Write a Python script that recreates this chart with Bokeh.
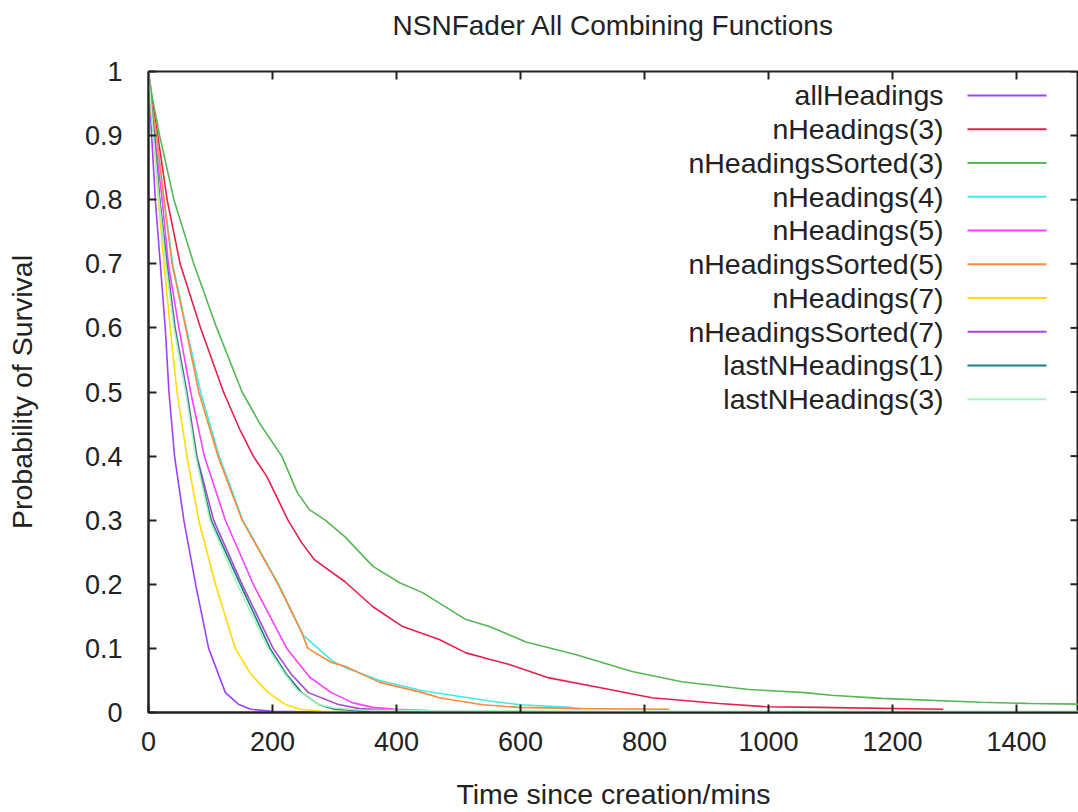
from bokeh.plotting import figure
from bokeh.models import Range1d, FixedTicker
from bokeh.embed import file_html
from bokeh.resources import INLINE
from bokeh.core.properties import value

title_text = "NSNFader All Combining Functions"
x_label = "Time since creation/mins"
y_label = "Probability of Survival"

x_ticks = [0, 200, 400, 600, 800, 1000, 1200, 1400]
y_ticks = [0, 0.1, 0.2, 0.3, 0.4, 0.5, 0.6, 0.7, 0.8, 0.9, 1.0]
y_tick_labels = ["0", "0.1", "0.2", "0.3", "0.4", "0.5", "0.6", "0.7", "0.8", "0.9", "1"]

names = ["allHeadings", "nHeadings(3)", "nHeadingsSorted(3)", "nHeadings(4)",
         "nHeadings(5)", "nHeadingsSorted(5)", "nHeadings(7)", "nHeadingsSorted(7)",
         "lastNHeadings(1)", "lastNHeadings(3)"]
colors = ["#a040ff", "#e5204c", "#55b855", "#40eaea", "#ff40ff",
          "#ff8a3a", "#ffdd00", "#a84ad0", "#1a7f80", "#a8f5c0"]

t_allHeadings = [0, 2, 5, 11, 19, 27, 33, 42, 57, 76, 97, 124, 145, 165, 200, 250, 292]
p_allHeadings = [1.0, 0.96, 0.9, 0.8, 0.7, 0.6, 0.5, 0.4, 0.3, 0.2, 0.1, 0.031, 0.013, 0.005, 0.002, 0.001, 0.001]

t_nH3 = [0, 5, 15, 30, 51, 84, 121, 148, 169, 191, 225, 247, 268, 317, 362, 410, 469, 512, 550, 582, 646, 727, 812, 920, 995, 1080, 1282]
p_nH3 = [1.0, 0.96, 0.9, 0.8, 0.7, 0.6, 0.5, 0.44, 0.4, 0.368, 0.3, 0.265, 0.238, 0.204, 0.165, 0.134, 0.114, 0.093, 0.083, 0.075, 0.054, 0.039, 0.023, 0.014, 0.009, 0.008, 0.005]

t_nHS3 = [0, 6, 18, 41, 73, 110, 151, 180, 215, 240, 260, 285, 317, 362, 405, 442, 512, 550, 609, 690, 780, 860, 968, 1059, 1101, 1182, 1342, 1423, 1500]
p_nHS3 = [1.0, 0.96, 0.9, 0.8, 0.7, 0.6, 0.5, 0.45, 0.4, 0.343, 0.316, 0.3, 0.274, 0.228, 0.2025, 0.187, 0.145, 0.134, 0.11, 0.09, 0.064, 0.048, 0.036, 0.031, 0.027, 0.022, 0.016, 0.014, 0.013]

t_nH4 = [0, 3, 13, 25, 39, 61, 84, 114, 152, 210, 250, 297, 320, 373, 442, 550, 600, 680, 695]
p_nH4 = [1.0, 0.96, 0.9, 0.8, 0.7, 0.6, 0.5, 0.4, 0.3, 0.2, 0.12, 0.08, 0.069, 0.05, 0.034, 0.018, 0.012, 0.008, 0.005]

t_nH5 = [0, 3, 10, 22, 32, 49, 68, 90, 124, 169, 223, 260, 295, 330, 362, 400, 453]
p_nH5 = [1.0, 0.96, 0.9, 0.8, 0.7, 0.6, 0.5, 0.4, 0.3, 0.2, 0.1, 0.055, 0.031, 0.015, 0.008, 0.005, 0.003]

t_nHS5 = [0, 3, 13, 25, 38, 60, 81, 112, 151, 209, 247, 257, 295, 317, 373, 442, 469, 539, 598, 700, 840]
p_nHS5 = [1.0, 0.96, 0.9, 0.8, 0.7, 0.6, 0.5, 0.4, 0.3, 0.2, 0.125, 0.1, 0.078, 0.072, 0.047, 0.031, 0.023, 0.012, 0.008, 0.006, 0.005]

t_nH7 = [0, 2, 8, 16, 25, 35, 46, 62, 81, 108, 140, 165, 193, 220, 244, 280, 336]
p_nH7 = [1.0, 0.96, 0.9, 0.8, 0.7, 0.6, 0.5, 0.4, 0.3, 0.2, 0.1, 0.06, 0.031, 0.013, 0.005, 0.002, 0.001]

t_nHS7 = [0, 3, 9, 18, 30, 43, 62, 78, 105, 151, 201, 230, 258, 305, 340, 405]
p_nHS7 = [1.0, 0.96, 0.9, 0.8, 0.7, 0.6, 0.5, 0.4, 0.3, 0.2, 0.1, 0.06, 0.031, 0.013, 0.006, 0.003]

t_last1 = [0, 3, 9, 18, 29, 42, 61, 77, 101, 148, 196, 222, 247, 275, 300, 357]
p_last1 = [1.0, 0.96, 0.9, 0.8, 0.7, 0.6, 0.5, 0.4, 0.3, 0.2, 0.1, 0.06, 0.031, 0.012, 0.005, 0.002]

t_last3 = [0, 3, 8, 17, 28, 41, 60, 76, 99, 143, 193, 220, 240, 273, 300, 340, 450, 700, 1000, 1500]
p_last3 = [1.0, 0.96, 0.9, 0.8, 0.7, 0.6, 0.5, 0.4, 0.3, 0.2, 0.1, 0.06, 0.035, 0.013, 0.007, 0.004, 0.003, 0.002, 0.002, 0.002]

series_t = [t_allHeadings, t_nH3, t_nHS3, t_nH4, t_nH5, t_nHS5, t_nH7, t_nHS7, t_last1, t_last3]
series_p = [p_allHeadings, p_nH3, p_nHS3, p_nH4, p_nH5, p_nHS5, p_nH7, p_nHS7, p_last1, p_last3]

FONT = "Liberation Sans"
TXT = "#222222"
AX = "#222222"

W, H = 1078, 812
LEFT, TOP, BOTTOM = 148, 71, 99
X0, X1, Y0, Y1 = 0, 1500, 0, 1
FRAME_W = W - LEFT
FRAME_H = H - TOP - BOTTOM
TICK_PX = 8

p = figure(width=W, height=H, x_range=Range1d(X0, X1), y_range=Range1d(Y0, Y1),
           output_backend="svg", toolbar_location=None,
           min_border_left=LEFT, min_border_right=0, min_border_top=TOP,
           min_border_bottom=BOTTOM)
p.background_fill_color = "white"
p.border_fill_color = "white"
p.outline_line_color = AX
p.outline_line_width = 2
p.xgrid.visible = False
p.ygrid.visible = False

# a blank second line lifts the title towards the top edge, as gnuplot places it
p.title.text = title_text + "\n "
p.title.align = "center"
p.title.text_font = FONT
p.title.text_font_size = "28px"
p.title.text_font_style = "normal"
p.title.text_color = TXT
p.title.standoff = 0


def sx(px):
    return X0 + (px - LEFT) * (X1 - X0) / FRAME_W


def sy(py):
    return Y1 - (py - TOP) * (Y1 - Y0) / FRAME_H


def style_axis(ax):
    ax.axis_line_color = AX
    ax.axis_line_width = 2
    ax.major_tick_in = TICK_PX
    ax.major_tick_out = 0
    ax.major_tick_line_color = AX
    ax.major_tick_line_width = 2
    ax.minor_tick_line_color = None
    ax.major_label_text_font = FONT
    ax.major_label_text_color = TXT
    ax.major_label_text_font_size = "27px"
    ax.axis_label_text_font = FONT
    ax.axis_label_text_font_size = "28.5px"
    ax.axis_label_text_font_style = "normal"
    ax.axis_label_text_color = TXT


xax = p.xaxis[0]
xax.ticker = FixedTicker(ticks=x_ticks)
style_axis(xax)
xax.major_label_standoff = 19
xax.axis_label = x_label
xax.axis_label_standoff = 24

yax = p.yaxis[0]
yax.ticker = FixedTicker(ticks=y_ticks)
yax.major_label_overrides = {float(k): v for k, v in zip(y_ticks, y_tick_labels)}
style_axis(yax)
yax.major_label_standoff = 26
yax.axis_label = y_label
yax.axis_label_standoff = 44

# mirrored inward ticks on the top and right frame edges (gnuplot style)
dy_tick = TICK_PX * (Y1 - Y0) / FRAME_H
dx_tick = TICK_PX * (X1 - X0) / FRAME_W
p.segment(x0=x_ticks, y0=[Y1] * len(x_ticks), x1=x_ticks, y1=[Y1 - dy_tick] * len(x_ticks),
          line_color=AX, line_width=2)
p.segment(x0=[X1] * len(y_ticks), y0=y_ticks, x1=[X1 - dx_tick] * len(y_ticks), y1=y_ticks,
          line_color=AX, line_width=2)

for t, pr, c in zip(series_t, series_p, colors):
    p.line(t, pr, line_color=c, line_width=1.6)

# gnuplot-style key
key_text_x = sx(943)
key_line_x0 = sx(967)
key_line_x1 = sx(1046)
key_ys = [sy(95 + 33.8 * i) for i in range(len(names))]

p.text(x=[key_text_x] * len(names), y=key_ys, text=names,
       text_align="right", text_baseline="middle",
       text_font=value(FONT), text_font_size="28.5px", text_color=TXT)
p.segment(x0=[key_line_x0] * len(names), y0=key_ys,
          x1=[key_line_x1] * len(names), y1=key_ys,
          line_color=colors, line_width=2)

open("out.html", "w").write(file_html(p, INLINE))
